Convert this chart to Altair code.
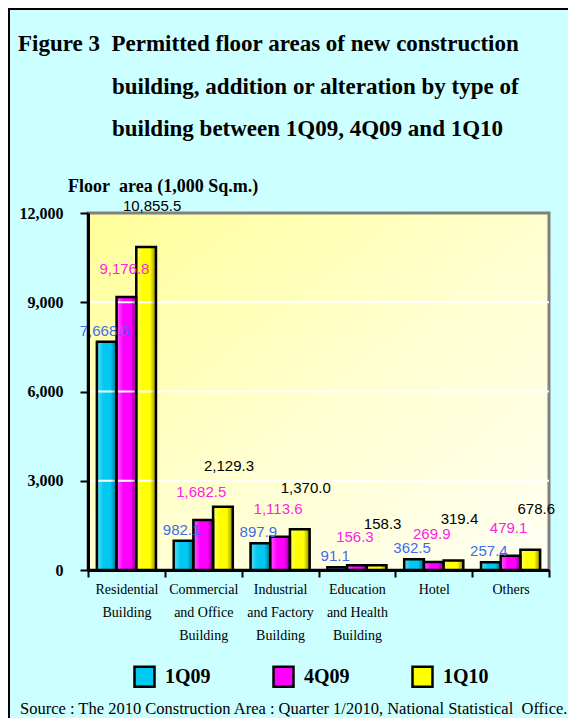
import altair as alt
import pandas as pd

categories = ["Residential|Building", "Commercial|and Office|Building",
              "Industrial|and Factory|Building", "Education|and Health|Building",
              "Hotel", "Others"]
series = ["1Q09", "4Q09", "1Q10"]
v_1q09 = [7668.6, 982.1, 897.9, 91.1, 362.5, 257.4]
v_4q09 = [9176.8, 1682.5, 1113.6, 156.3, 269.9, 479.1]
v_1q10 = [10855.5, 2129.3, 1370.0, 158.3, 319.4, 678.6]
y_ticks = [0, 3000, 6000, 9000, 12000]
grid_vals = [3000, 6000, 9000]

bar_colors = ["#00C8F0", "#FF00FF", "#FFFF00"]
label_colors = ["#3F6BF0", "#FF22E6", "#000000"]
label_dy = [-11, -28, -41]
label_dx = [-2, -2, 6]

NB = "\u00a0"
title_lines = ["Figure 3" + NB + NB + "Permitted floor areas of new construction",
               "building, addition or alteration by type of",
               "building between 1Q09, 4Q09 and 1Q10"]
y_title = "Floor" + NB + NB + "area (1,000 Sq.m.)"
source = "Source : The 2010 Construction Area : Quarter 1/2010, National Statistical" + NB + NB + "Office."

rows = []
for s, vals in zip(series, [v_1q09, v_4q09, v_1q10]):
    for c, v in zip(categories, vals):
        rows.append({"category": c, "series": s, "value": v})
df = pd.DataFrame(rows)

W, H = 461, 357
SERIF = "Liberation Serif"
SANS = "Liberation Sans"

x_enc = alt.X("category:N", sort=categories,
              scale=alt.Scale(paddingInner=0, paddingOuter=0),
              axis=alt.Axis(title=None,
                            labelExpr="isValid(datum.value) ? split(datum.value, '|') : ''",
                            labelAngle=0, tickBand="extent", labelOverlap=False,
                            domainColor="black", domainWidth=3,
                            tickColor="black", tickWidth=2, tickSize=7,
                            labelFont=SERIF, labelFontSize=14, labelColor="black",
                            labelLineHeight=23, labelPadding=5, zindex=1))
xo_enc = alt.XOffset("series:N", sort=series,
                     scale=alt.Scale(domain=series, paddingOuter=0.45, paddingInner=0))
y_enc = alt.Y("value:Q", scale=alt.Scale(domain=[0, 12000], nice=False),
              axis=alt.Axis(title=None, values=y_ticks, format=",d", grid=False,
                            domainColor="black", domainWidth=3,
                            tickColor="black", tickWidth=2, tickSize=8,
                            labelFont=SERIF, labelFontSize=16, labelFontWeight="bold",
                            labelColor="black", labelPadding=17, zindex=1))

one = alt.Data(values=[{}])

bg = alt.Chart(one).mark_rect(
    fill={"gradient": "linear", "x1": 0, "y1": 0, "x2": 1, "y2": 1,
          "stops": [{"offset": 0, "color": "#FFFF99"},
                    {"offset": 0.5, "color": "#FFFFCE"},
                    {"offset": 1, "color": "#FFFFF4"}]},
    stroke="#808080", strokeWidth=3
).encode(x=alt.value(0), x2=alt.value(W), y=alt.value(0), y2=alt.value(H))

bars = alt.Chart(df).mark_bar(strokeWidth=0).encode(
    x=x_enc, xOffset=xo_enc, y=y_enc,
    color=alt.Color("series:N", sort=series,
                    scale=alt.Scale(domain=series, range=bar_colors),
                    legend=alt.Legend(orient="none", legendX=45, legendY=452,
                                      direction="horizontal", title=None,
                                      symbolType="square", symbolSize=400,
                                      symbolStrokeColor="black", symbolStrokeWidth=2.5,
                                      symbolOpacity=1,
                                      labelFont=SERIF, labelFontSize=20,
                                      labelFontWeight="bold", labelColor="black",
                                      labelOffset=9, columnPadding=57, padding=0))
)

grid = alt.Chart(pd.DataFrame({"value": grid_vals})).mark_rule(
    color="white", strokeWidth=2
).encode(y=alt.Y("value:Q"))

shade = alt.Chart(df).mark_bar(
    fill={"gradient": "linear", "x1": 0, "y1": 0, "x2": 1, "y2": 0,
          "stops": [{"offset": 0, "color": "rgba(255,255,255,0.35)"},
                    {"offset": 0.35, "color": "rgba(255,255,255,0)"},
                    {"offset": 0.7, "color": "rgba(0,0,0,0)"},
                    {"offset": 1, "color": "rgba(0,0,0,0.45)"}]},
    stroke="black", strokeWidth=2.5
).encode(x=alt.X("category:N", sort=categories), xOffset=alt.XOffset("series:N", sort=series),
         y=alt.Y("value:Q"))

texts = []
for i, s in enumerate(series):
    t = alt.Chart(df).transform_filter(alt.datum.series == s).mark_text(
        font=SANS, fontSize=15, color=label_colors[i], dy=label_dy[i], dx=label_dx[i],
        baseline="middle", align="center"
    ).encode(x=alt.X("category:N", sort=categories),
             xOffset=alt.XOffset("series:N", sort=series),
             y=alt.Y("value:Q"),
             text=alt.Text("value:Q", format=",.1f"))
    texts.append(t)

def label(txt, x, y, size, weight="bold", font=SERIF):
    return alt.Chart(one).mark_text(text=txt, font=font, fontSize=size, fontWeight=weight,
                                    align="left", baseline="alphabetic", color="black"
                                    ).encode(x=alt.value(x), y=alt.value(y))

annotations = [
    label(title_lines[0], -70, -162, 23),
    label(title_lines[1], 24, -119, 23),
    label(title_lines[2], 24, -77, 23),
    label(y_title, -20, -21, 18),
    label(source, -68, 501, 16.5, weight="normal"),
]

frame_top = alt.Chart(one).mark_rule(color="black", strokeWidth=2).encode(
    x=alt.value(-80), x2=alt.value(W + 19), y=alt.value(-204))
frame_left = alt.Chart(one).mark_rule(color="black", strokeWidth=2).encode(
    x=alt.value(-79), y=alt.value(-205), y2=alt.value(H + 148))

chart = alt.layer(bg, bars, grid, shade, *texts, *annotations, frame_top, frame_left).properties(
    width=W, height=H,
    padding={"left": 80, "top": 205, "right": 19, "bottom": 148},
    autosize=alt.AutoSizeParams(type="none"),
    background="#CCFFFF",
).configure_view(stroke=None)

chart.save("out.html", embed_options={"renderer": "svg", "actions": False})
